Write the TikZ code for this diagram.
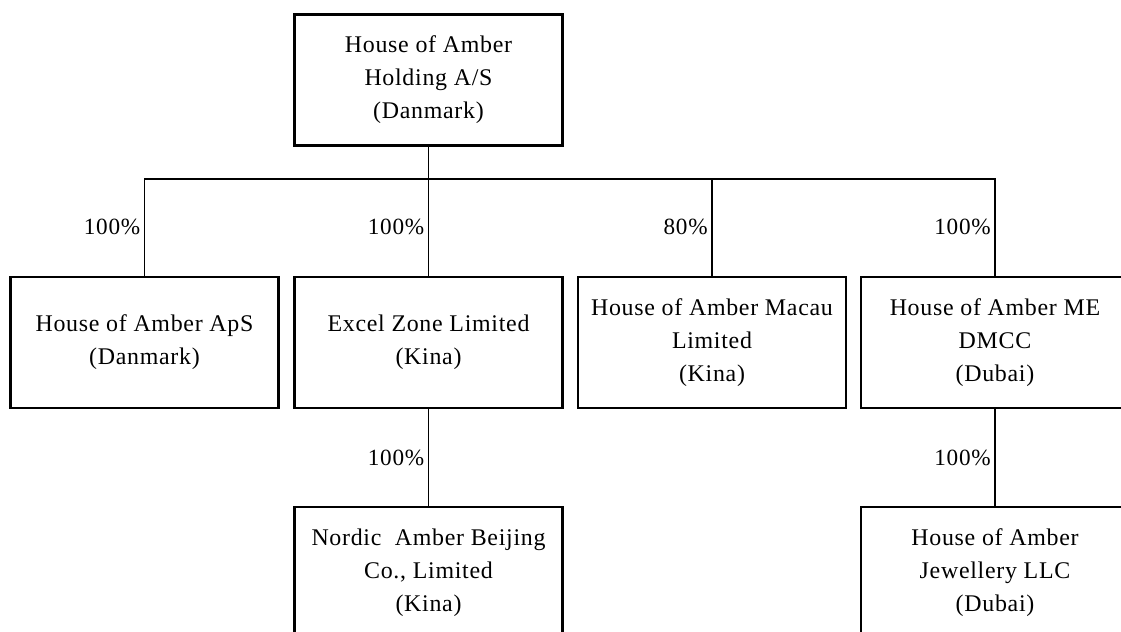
\documentclass[tikz,border=0pt]{standalone}
\usepackage{fontspec}
\setmainfont{Liberation Serif}[LetterSpace=3.0]
\usepackage{tikz}

\begin{document}
\begin{tikzpicture}[x=0.025cm, y=-0.025cm,
        firm/.style={draw, line width=1.7pt, minimum width=6.7cm, minimum height=3.275cm,
            align=center, inner sep=0pt, font=\fontsize{17}{23.5}\selectfont},
        link/.style={line width=1.2pt},
        share/.style={left, inner sep=2.5pt, font=\fontsize{16.5}{20}\selectfont}]
                \useasboundingbox (0,0) rectangle (1121,632);
                \clip (0,0) rectangle (1121,632);

                % the companies
                \node[firm] (holding) at (428.5,80) {House of Amber\\Holding A/S\\(Danmark)};
                \node[firm] (aps) at (144.5,342.5) {House of Amber ApS\\(Danmark)};
                \node[firm] (excel) at (428.5,342.5) {Excel Zone Limited\\(Kina)};
                \node[firm] (macau) at (712,342.5) {House of Amber Macau\\Limited\\(Kina)};
                \node[firm] (me) at (995,342.5) {House of Amber ME\\DMCC\\(Dubai)};
                \node[firm] (beijing) at (428.5,572.5) {Nordic\ \ Amber Beijing\\Co., Limited\\(Kina)};
                \node[firm] (jewel) at (995,572.5) {House of Amber\\Jewellery LLC\\(Dubai)};

                % ownership lines
                \coordinate (bus) at (428.5,179);
                \draw[link] (holding.south) -- (bus);
                \draw[link] (aps.north) |- node[share, pos=0.25] {100\%} (bus);
                \draw[link] (excel.north) -- node[share] {100\%} (bus);
                \draw[link] (macau.north) |- node[share, pos=0.25] {80\%} (bus);
                \draw[link] (me.north) |- node[share, pos=0.25] {100\%} (bus);
                \draw[link] (excel.south) -- node[share] {100\%} (beijing.north);
                \draw[link] (me.south) -- node[share] {100\%} (jewel.north);
            \end{tikzpicture}
\end{document}
